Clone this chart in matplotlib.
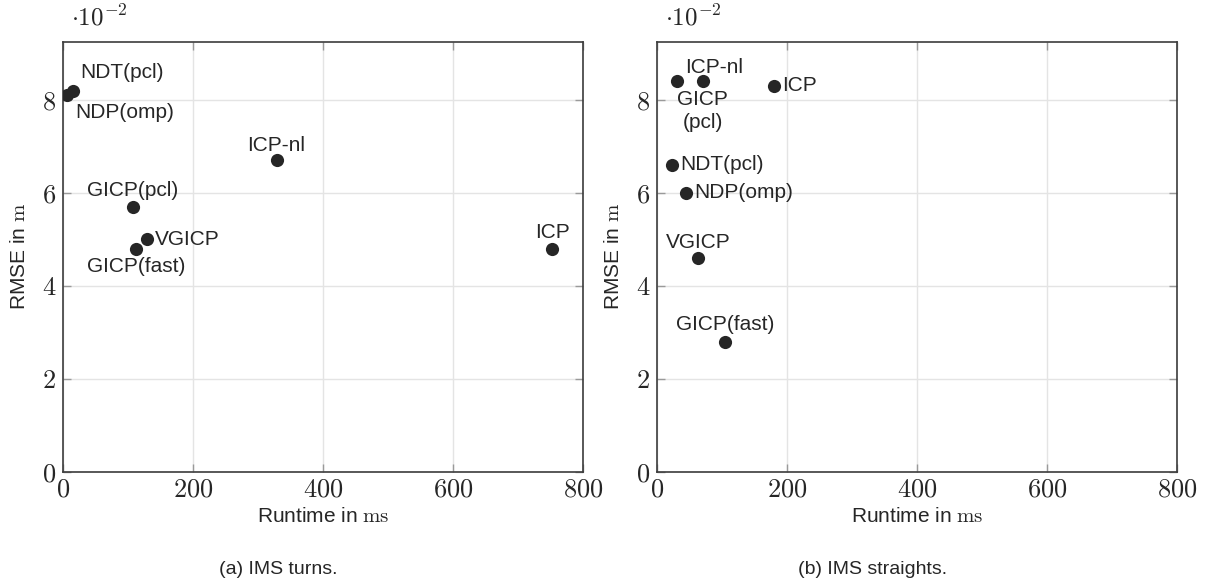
import matplotlib
matplotlib.use("Agg")
import matplotlib.pyplot as plt
from matplotlib.ticker import FuncFormatter, MultipleLocator

plt.rcParams['font.family'] = ['Liberation Sans', 'DejaVu Sans']
plt.rcParams['mathtext.fontset'] = 'cm'

# ======= Data (runtime in ms, RMSE in m) =======
turns_methods = ['NDT(pcl)', 'NDP(omp)', 'ICP-nl', 'GICP(pcl)', 'VGICP', 'GICP(fast)', 'ICP']
turns_runtime = [15, 5, 328, 107, 129, 112, 752]
turns_rmse = [0.082, 0.081, 0.067, 0.057, 0.050, 0.048, 0.048]

straights_methods = ['ICP-nl', 'GICP\n(pcl)', 'ICP', 'NDT(pcl)', 'NDP(omp)', 'VGICP', 'GICP(fast)']
straights_runtime = [70, 30, 180, 23, 44, 63, 104]
straights_rmse = [0.084, 0.084, 0.083, 0.066, 0.060, 0.046, 0.028]

captions = ['(a) IMS turns.', '(b) IMS straights.']

# label placement per point: (dx px, dy px, ha)
turns_offsets = [(49, 18, 'center'), (58, -17, 'center'), (0, 15, 'center'),
                 (0, 16, 'center'), (8, 0, 'left'), (0, -18, 'center'), (0, 16, 'center')]
straights_offsets = [(11, 14, 'center'), (26, -30, 'center'), (8, 0, 'left'),
                     (8, 0, 'left'), (8, 0, 'left'), (0, 16, 'center'), (0, 17, 'center')]

W, H = 1207, 583
fig = plt.figure(figsize=(W / 100, H / 100), dpi=100)

ax_w = 520
ax_top = 41.7
ax_bot = 472
panels = [
    (63.3, turns_methods, turns_runtime, turns_rmse, turns_offsets),
    (657.3, straights_methods, straights_runtime, straights_rmse, straights_offsets),
]

for i, (x0, names, rt, rmse, offs) in enumerate(panels):
    ax = fig.add_axes([x0 / W, (H - ax_bot) / H, ax_w / W, (ax_bot - ax_top) / H])
    ax.scatter(rt, rmse, s=90, color='#262626', zorder=3, linewidths=0)
    for name, x, y, (dx, dy, ha) in zip(names, rt, rmse, offs):
        ax.annotate(name, (x, y), xytext=(dx, dy), textcoords='offset pixels',
                    ha=ha, va='center', fontsize=15, color='#262626',
                    linespacing=1.25, zorder=4)

    ax.set_xlim(0, 800)
    ax.set_ylim(0, 0.0925)
    ax.xaxis.set_major_locator(MultipleLocator(200))
    ax.yaxis.set_major_locator(MultipleLocator(0.02))
    ax.xaxis.set_major_formatter(FuncFormatter(lambda v, p: f'${v:.0f}$'))
    ax.yaxis.set_major_formatter(FuncFormatter(lambda v, p: f'${round(v * 100):d}$'))
    ax.tick_params(direction='in', length=6, width=1, color='#9a9a9a',
                   top=True, right=True, labelsize=19, labelcolor='#262626')
    ax.tick_params(axis='x', pad=4)
    ax.tick_params(axis='y', pad=5)
    ax.grid(True, color='#e4e4e4', linewidth=1, zorder=0)
    ax.set_axisbelow(True)
    for sp in ax.spines.values():
        sp.set_color('#3c3c3c')
        sp.set_linewidth(1.2)

    ax.set_xlabel('Runtime in $\\mathrm{ms}$', fontsize=15, color='#262626', labelpad=4)
    ax.set_ylabel('RMSE in $\\mathrm{m}$', fontsize=15, color='#262626', labelpad=9)

    # pgfplots-style scale factor
    ax.text(8 / ax_w, 1 + 24 / (ax_bot - ax_top), '$\\cdot 10^{-2}$',
            transform=ax.transAxes, fontsize=18, color='#262626', ha='left', va='center')

    fig.text((x0 + ax_w / 2 - 45) / W, 1 - 569 / H, captions[i], fontsize=14,
             color='#262626', ha='center', va='center')

fig.savefig('out.png', dpi=100)
